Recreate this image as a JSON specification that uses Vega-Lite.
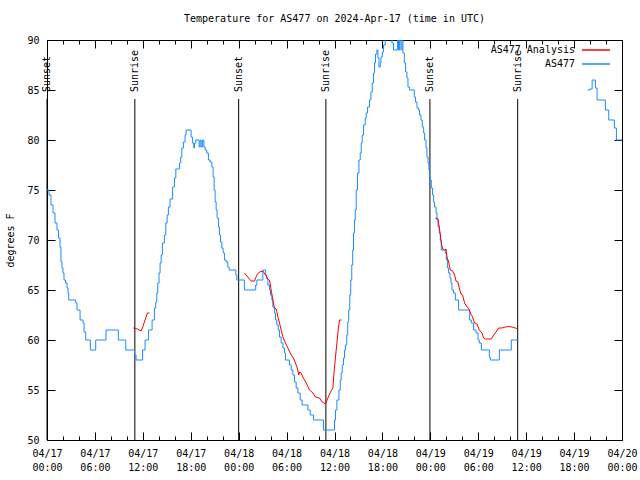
{
  "$schema": "https://vega.github.io/schema/vega-lite/v6.json",
  "width": 575,
  "height": 400,
  "autosize": "none",
  "padding": {"left": 47, "top": 40, "right": 18, "bottom": 40},
  "background": "white",
  "title": {"text": "Temperature for AS477 on 2024-Apr-17 (time in UTC)", "font": "DejaVu Sans Mono", "fontSize": 10, "fontWeight": "normal", "color": "black", "offset": 11, "anchor": "middle"},
  "config": {
    "font": "DejaVu Sans Mono",
    "view": {"stroke": "black", "strokeWidth": 1},
    "axis": {"domain": false, "grid": false, "tickColor": "black", "tickWidth": 1, "labelColor": "black", "labelFont": "DejaVu Sans Mono", "labelFontSize": 10, "titleFont": "DejaVu Sans Mono", "titleFontSize": 10, "titleFontWeight": "normal", "titleColor": "black"}
  },
  "datasets": {
    "temps": [
      {"series":"AS477","seg":1,"hour":0.0,"temp":75},
      {"series":"AS477","seg":1,"hour":0.25,"temp":74.5},
      {"series":"AS477","seg":1,"hour":0.5,"temp":73.5},
      {"series":"AS477","seg":1,"hour":0.75,"temp":72.7},
      {"series":"AS477","seg":1,"hour":1.0,"temp":71.7},
      {"series":"AS477","seg":1,"hour":1.25,"temp":71},
      {"series":"AS477","seg":1,"hour":1.44,"temp":70.2},
      {"series":"AS477","seg":1,"hour":1.63,"temp":69.3},
      {"series":"AS477","seg":1,"hour":1.75,"temp":67.8},
      {"series":"AS477","seg":1,"hour":1.88,"temp":67.2},
      {"series":"AS477","seg":1,"hour":2.0,"temp":66.7},
      {"series":"AS477","seg":1,"hour":2.13,"temp":66},
      {"series":"AS477","seg":1,"hour":2.32,"temp":65.7},
      {"series":"AS477","seg":1,"hour":2.51,"temp":65.2},
      {"series":"AS477","seg":1,"hour":2.63,"temp":64.7},
      {"series":"AS477","seg":1,"hour":2.72,"temp":64},
      {"series":"AS477","seg":1,"hour":3.6,"temp":63.7},
      {"series":"AS477","seg":1,"hour":3.76,"temp":63},
      {"series":"AS477","seg":1,"hour":4.14,"temp":62},
      {"series":"AS477","seg":1,"hour":4.51,"temp":61.7},
      {"series":"AS477","seg":1,"hour":4.64,"temp":60.8},
      {"series":"AS477","seg":1,"hour":4.85,"temp":60},
      {"series":"AS477","seg":1,"hour":5.43,"temp":59},
      {"series":"AS477","seg":1,"hour":6.1,"temp":60},
      {"series":"AS477","seg":1,"hour":7.39,"temp":61},
      {"series":"AS477","seg":1,"hour":8.93,"temp":60},
      {"series":"AS477","seg":1,"hour":9.86,"temp":59},
      {"series":"AS477","seg":1,"hour":10.96,"temp":58.5},
      {"series":"AS477","seg":1,"hour":11.15,"temp":58},
      {"series":"AS477","seg":1,"hour":11.97,"temp":59},
      {"series":"AS477","seg":1,"hour":12.28,"temp":60},
      {"series":"AS477","seg":1,"hour":12.72,"temp":61},
      {"series":"AS477","seg":1,"hour":13.16,"temp":62},
      {"series":"AS477","seg":1,"hour":13.45,"temp":63.2},
      {"series":"AS477","seg":1,"hour":13.62,"temp":63.8},
      {"series":"AS477","seg":1,"hour":13.75,"temp":64.7},
      {"series":"AS477","seg":1,"hour":13.87,"temp":65.7},
      {"series":"AS477","seg":1,"hour":14.03,"temp":66.7},
      {"series":"AS477","seg":1,"hour":14.16,"temp":67.7},
      {"series":"AS477","seg":1,"hour":14.29,"temp":68.5},
      {"series":"AS477","seg":1,"hour":14.45,"temp":69.7},
      {"series":"AS477","seg":1,"hour":14.7,"temp":70.5},
      {"series":"AS477","seg":1,"hour":14.87,"temp":71.7},
      {"series":"AS477","seg":1,"hour":15.04,"temp":72.5},
      {"series":"AS477","seg":1,"hour":15.2,"temp":73.3},
      {"series":"AS477","seg":1,"hour":15.41,"temp":74.1},
      {"series":"AS477","seg":1,"hour":15.73,"temp":75.3},
      {"series":"AS477","seg":1,"hour":15.95,"temp":76.2},
      {"series":"AS477","seg":1,"hour":16.13,"temp":77.1},
      {"series":"AS477","seg":1,"hour":16.58,"temp":77.7},
      {"series":"AS477","seg":1,"hour":16.75,"temp":78.3},
      {"series":"AS477","seg":1,"hour":16.88,"temp":79.2},
      {"series":"AS477","seg":1,"hour":17.08,"temp":79.8},
      {"series":"AS477","seg":1,"hour":17.29,"temp":80.5},
      {"series":"AS477","seg":1,"hour":17.42,"temp":81},
      {"series":"AS477","seg":1,"hour":18.04,"temp":80.3},
      {"series":"AS477","seg":1,"hour":18.21,"temp":79.7},
      {"series":"AS477","seg":1,"hour":18.38,"temp":79.2},
      {"series":"AS477","seg":1,"hour":18.46,"temp":79.7},
      {"series":"AS477","seg":1,"hour":18.63,"temp":80},
      {"series":"AS477","seg":1,"hour":19.05,"temp":79.3},
      {"series":"AS477","seg":1,"hour":19.17,"temp":80},
      {"series":"AS477","seg":1,"hour":19.3,"temp":79.3},
      {"series":"AS477","seg":1,"hour":19.46,"temp":80},
      {"series":"AS477","seg":1,"hour":19.64,"temp":79.3},
      {"series":"AS477","seg":1,"hour":19.8,"temp":79},
      {"series":"AS477","seg":1,"hour":20.01,"temp":78.7},
      {"series":"AS477","seg":1,"hour":20.21,"temp":78},
      {"series":"AS477","seg":1,"hour":20.43,"temp":77.8},
      {"series":"AS477","seg":1,"hour":20.64,"temp":77.3},
      {"series":"AS477","seg":1,"hour":20.8,"temp":76.3},
      {"series":"AS477","seg":1,"hour":20.93,"temp":75},
      {"series":"AS477","seg":1,"hour":21.05,"temp":73.8},
      {"series":"AS477","seg":1,"hour":21.18,"temp":73},
      {"series":"AS477","seg":1,"hour":21.3,"temp":72.2},
      {"series":"AS477","seg":1,"hour":21.47,"temp":71.3},
      {"series":"AS477","seg":1,"hour":21.59,"temp":70.5},
      {"series":"AS477","seg":1,"hour":21.72,"temp":69.8},
      {"series":"AS477","seg":1,"hour":21.89,"temp":69.2},
      {"series":"AS477","seg":1,"hour":22.05,"temp":68.7},
      {"series":"AS477","seg":1,"hour":22.22,"temp":68},
      {"series":"AS477","seg":1,"hour":22.43,"temp":67.8},
      {"series":"AS477","seg":1,"hour":22.64,"temp":67.3},
      {"series":"AS477","seg":1,"hour":22.81,"temp":67},
      {"series":"AS477","seg":1,"hour":23.65,"temp":66.5},
      {"series":"AS477","seg":1,"hour":23.77,"temp":66},
      {"series":"AS477","seg":1,"hour":24.72,"temp":65},
      {"series":"AS477","seg":1,"hour":26.13,"temp":65.5},
      {"series":"AS477","seg":1,"hour":26.28,"temp":66},
      {"series":"AS477","seg":1,"hour":27.03,"temp":67},
      {"series":"AS477","seg":1,"hour":27.38,"temp":66.5},
      {"series":"AS477","seg":1,"hour":27.53,"temp":66.1},
      {"series":"AS477","seg":1,"hour":27.66,"temp":65.5},
      {"series":"AS477","seg":1,"hour":27.86,"temp":65},
      {"series":"AS477","seg":1,"hour":27.98,"temp":64.5},
      {"series":"AS477","seg":1,"hour":28.16,"temp":64},
      {"series":"AS477","seg":1,"hour":28.28,"temp":63.3},
      {"series":"AS477","seg":1,"hour":28.48,"temp":62.7},
      {"series":"AS477","seg":1,"hour":28.61,"temp":62},
      {"series":"AS477","seg":1,"hour":28.78,"temp":61.5},
      {"series":"AS477","seg":1,"hour":28.95,"temp":61},
      {"series":"AS477","seg":1,"hour":29.11,"temp":60.3},
      {"series":"AS477","seg":1,"hour":29.32,"temp":59.7},
      {"series":"AS477","seg":1,"hour":29.54,"temp":59.2},
      {"series":"AS477","seg":1,"hour":29.74,"temp":58.7},
      {"series":"AS477","seg":1,"hour":29.86,"temp":58},
      {"series":"AS477","seg":1,"hour":30.36,"temp":57.5},
      {"series":"AS477","seg":1,"hour":30.58,"temp":57},
      {"series":"AS477","seg":1,"hour":30.79,"temp":56.5},
      {"series":"AS477","seg":1,"hour":30.99,"temp":55.8},
      {"series":"AS477","seg":1,"hour":31.2,"temp":55.2},
      {"series":"AS477","seg":1,"hour":31.42,"temp":54.7},
      {"series":"AS477","seg":1,"hour":31.7,"temp":54},
      {"series":"AS477","seg":1,"hour":31.95,"temp":53.5},
      {"series":"AS477","seg":1,"hour":32.67,"temp":53},
      {"series":"AS477","seg":1,"hour":32.96,"temp":52.5},
      {"series":"AS477","seg":1,"hour":33.37,"temp":52},
      {"series":"AS477","seg":1,"hour":34.62,"temp":51},
      {"series":"AS477","seg":1,"hour":36.0,"temp":52},
      {"series":"AS477","seg":1,"hour":36.13,"temp":53},
      {"series":"AS477","seg":1,"hour":36.3,"temp":54},
      {"series":"AS477","seg":1,"hour":36.55,"temp":55},
      {"series":"AS477","seg":1,"hour":36.72,"temp":56},
      {"series":"AS477","seg":1,"hour":36.84,"temp":56.7},
      {"series":"AS477","seg":1,"hour":36.97,"temp":57.5},
      {"series":"AS477","seg":1,"hour":37.13,"temp":58.2},
      {"series":"AS477","seg":1,"hour":37.25,"temp":59},
      {"series":"AS477","seg":1,"hour":37.38,"temp":59.5},
      {"series":"AS477","seg":1,"hour":37.53,"temp":60.5},
      {"series":"AS477","seg":1,"hour":37.66,"temp":61.8},
      {"series":"AS477","seg":1,"hour":37.78,"temp":63},
      {"series":"AS477","seg":1,"hour":37.91,"temp":64.5},
      {"series":"AS477","seg":1,"hour":38.03,"temp":66},
      {"series":"AS477","seg":1,"hour":38.16,"temp":67.5},
      {"series":"AS477","seg":1,"hour":38.28,"temp":69},
      {"series":"AS477","seg":1,"hour":38.38,"temp":70.7},
      {"series":"AS477","seg":1,"hour":38.5,"temp":72},
      {"series":"AS477","seg":1,"hour":38.6,"temp":73},
      {"series":"AS477","seg":1,"hour":38.72,"temp":75},
      {"series":"AS477","seg":1,"hour":38.88,"temp":76.7},
      {"series":"AS477","seg":1,"hour":39.06,"temp":78},
      {"series":"AS477","seg":1,"hour":39.22,"temp":78.7},
      {"series":"AS477","seg":1,"hour":39.35,"temp":79.7},
      {"series":"AS477","seg":1,"hour":39.47,"temp":80.5},
      {"series":"AS477","seg":1,"hour":39.64,"temp":81.5},
      {"series":"AS477","seg":1,"hour":39.85,"temp":82.2},
      {"series":"AS477","seg":1,"hour":39.97,"temp":82.7},
      {"series":"AS477","seg":1,"hour":40.14,"temp":83.3},
      {"series":"AS477","seg":1,"hour":40.39,"temp":84},
      {"series":"AS477","seg":1,"hour":40.56,"temp":84.8},
      {"series":"AS477","seg":1,"hour":40.73,"temp":85.7},
      {"series":"AS477","seg":1,"hour":40.89,"temp":86.7},
      {"series":"AS477","seg":1,"hour":41.01,"temp":87.7},
      {"series":"AS477","seg":1,"hour":41.14,"temp":88.6},
      {"series":"AS477","seg":1,"hour":41.31,"temp":89},
      {"series":"AS477","seg":1,"hour":41.44,"temp":88.2},
      {"series":"AS477","seg":1,"hour":41.57,"temp":87.3},
      {"series":"AS477","seg":1,"hour":41.73,"temp":87.7},
      {"series":"AS477","seg":1,"hour":41.82,"temp":88.3},
      {"series":"AS477","seg":1,"hour":41.98,"temp":88.8},
      {"series":"AS477","seg":1,"hour":42.14,"temp":89.5},
      {"series":"AS477","seg":1,"hour":42.35,"temp":90.5},
      {"series":"AS477","seg":1,"hour":42.61,"temp":91},
      {"series":"AS477","seg":1,"hour":43.19,"temp":89.7},
      {"series":"AS477","seg":1,"hour":43.39,"temp":89},
      {"series":"AS477","seg":1,"hour":43.9,"temp":90},
      {"series":"AS477","seg":1,"hour":44.02,"temp":89},
      {"series":"AS477","seg":1,"hour":44.15,"temp":90},
      {"series":"AS477","seg":1,"hour":44.32,"temp":89},
      {"series":"AS477","seg":1,"hour":44.45,"temp":90},
      {"series":"AS477","seg":1,"hour":44.57,"temp":88.7},
      {"series":"AS477","seg":1,"hour":44.74,"temp":87.7},
      {"series":"AS477","seg":1,"hour":44.9,"temp":86.8},
      {"series":"AS477","seg":1,"hour":45.07,"temp":86.2},
      {"series":"AS477","seg":1,"hour":45.2,"temp":85.3},
      {"series":"AS477","seg":1,"hour":45.4,"temp":85},
      {"series":"AS477","seg":1,"hour":45.99,"temp":84.3},
      {"series":"AS477","seg":1,"hour":46.15,"temp":83.8},
      {"series":"AS477","seg":1,"hour":46.33,"temp":83.2},
      {"series":"AS477","seg":1,"hour":46.53,"temp":83},
      {"series":"AS477","seg":1,"hour":46.65,"temp":82.5},
      {"series":"AS477","seg":1,"hour":46.83,"temp":82},
      {"series":"AS477","seg":1,"hour":46.99,"temp":81.3},
      {"series":"AS477","seg":1,"hour":47.16,"temp":80.7},
      {"series":"AS477","seg":1,"hour":47.28,"temp":80},
      {"series":"AS477","seg":1,"hour":47.46,"temp":79.2},
      {"series":"AS477","seg":1,"hour":47.58,"temp":78.3},
      {"series":"AS477","seg":1,"hour":47.71,"temp":77.7},
      {"series":"AS477","seg":1,"hour":47.83,"temp":77},
      {"series":"AS477","seg":1,"hour":47.91,"temp":76.3},
      {"series":"AS477","seg":1,"hour":47.99,"temp":76},
      {"series":"AS477","seg":1,"hour":48.12,"temp":75.2},
      {"series":"AS477","seg":1,"hour":48.28,"temp":74.5},
      {"series":"AS477","seg":1,"hour":48.41,"temp":73.8},
      {"series":"AS477","seg":1,"hour":48.53,"temp":73.3},
      {"series":"AS477","seg":1,"hour":48.71,"temp":72.7},
      {"series":"AS477","seg":1,"hour":48.83,"temp":72},
      {"series":"AS477","seg":1,"hour":48.96,"temp":71.3},
      {"series":"AS477","seg":1,"hour":49.12,"temp":70.7},
      {"series":"AS477","seg":1,"hour":49.25,"temp":70},
      {"series":"AS477","seg":1,"hour":49.37,"temp":69},
      {"series":"AS477","seg":1,"hour":49.87,"temp":68.7},
      {"series":"AS477","seg":1,"hour":50.0,"temp":68},
      {"series":"AS477","seg":1,"hour":50.16,"temp":67.2},
      {"series":"AS477","seg":1,"hour":50.29,"temp":66.7},
      {"series":"AS477","seg":1,"hour":50.46,"temp":66.2},
      {"series":"AS477","seg":1,"hour":50.59,"temp":65.7},
      {"series":"AS477","seg":1,"hour":50.71,"temp":65},
      {"series":"AS477","seg":1,"hour":50.91,"temp":64.7},
      {"series":"AS477","seg":1,"hour":51.13,"temp":64},
      {"series":"AS477","seg":1,"hour":51.54,"temp":63},
      {"series":"AS477","seg":1,"hour":52.92,"temp":62},
      {"series":"AS477","seg":1,"hour":53.13,"temp":61.7},
      {"series":"AS477","seg":1,"hour":53.42,"temp":61},
      {"series":"AS477","seg":1,"hour":53.72,"temp":60.7},
      {"series":"AS477","seg":1,"hour":53.97,"temp":60},
      {"series":"AS477","seg":1,"hour":54.13,"temp":59.7},
      {"series":"AS477","seg":1,"hour":54.39,"temp":59},
      {"series":"AS477","seg":1,"hour":55.39,"temp":58.3},
      {"series":"AS477","seg":1,"hour":55.51,"temp":58},
      {"series":"AS477","seg":1,"hour":56.64,"temp":59},
      {"series":"AS477","seg":1,"hour":58.14,"temp":60},
      {"series":"AS477","seg":1,"hour":58.96,"temp":60},
      {"series":"AS477","seg":2,"hour":67.7,"temp":85},
      {"series":"AS477","seg":2,"hour":67.95,"temp":85.1},
      {"series":"AS477","seg":2,"hour":68.26,"temp":86},
      {"series":"AS477","seg":2,"hour":68.67,"temp":85.2},
      {"series":"AS477","seg":2,"hour":68.88,"temp":84},
      {"series":"AS477","seg":2,"hour":69.92,"temp":83},
      {"series":"AS477","seg":2,"hour":70.34,"temp":82},
      {"series":"AS477","seg":2,"hour":71.05,"temp":81.2},
      {"series":"AS477","seg":2,"hour":71.3,"temp":80},
      {"series":"AS477","seg":2,"hour":72.0,"temp":80},
      {"series":"AS477 Analysis","seg":3,"hour":10.81,"temp":61.2},
      {"series":"AS477 Analysis","seg":3,"hour":11.32,"temp":61.1},
      {"series":"AS477 Analysis","seg":3,"hour":11.78,"temp":60.9},
      {"series":"AS477 Analysis","seg":3,"hour":11.99,"temp":61.3},
      {"series":"AS477 Analysis","seg":3,"hour":12.19,"temp":61.8},
      {"series":"AS477 Analysis","seg":3,"hour":12.41,"temp":62.3},
      {"series":"AS477 Analysis","seg":3,"hour":12.57,"temp":62.7},
      {"series":"AS477 Analysis","seg":3,"hour":12.82,"temp":62.7},
      {"series":"AS477 Analysis","seg":4,"hour":24.72,"temp":66.7},
      {"series":"AS477 Analysis","seg":4,"hour":25.15,"temp":66.3},
      {"series":"AS477 Analysis","seg":4,"hour":25.56,"temp":65.9},
      {"series":"AS477 Analysis","seg":4,"hour":25.98,"temp":65.9},
      {"series":"AS477 Analysis","seg":4,"hour":26.28,"temp":66.5},
      {"series":"AS477 Analysis","seg":4,"hour":26.6,"temp":66.8},
      {"series":"AS477 Analysis","seg":4,"hour":27.03,"temp":66.9},
      {"series":"AS477 Analysis","seg":4,"hour":27.36,"temp":66.5},
      {"series":"AS477 Analysis","seg":4,"hour":27.66,"temp":66.1},
      {"series":"AS477 Analysis","seg":4,"hour":27.86,"temp":66.0},
      {"series":"AS477 Analysis","seg":4,"hour":28.07,"temp":65},
      {"series":"AS477 Analysis","seg":4,"hour":28.28,"temp":64},
      {"series":"AS477 Analysis","seg":4,"hour":28.48,"temp":63.2},
      {"series":"AS477 Analysis","seg":4,"hour":28.7,"temp":63.1},
      {"series":"AS477 Analysis","seg":4,"hour":28.91,"temp":62.3},
      {"series":"AS477 Analysis","seg":4,"hour":29.11,"temp":61.7},
      {"series":"AS477 Analysis","seg":4,"hour":29.32,"temp":61},
      {"series":"AS477 Analysis","seg":4,"hour":29.54,"temp":60.3},
      {"series":"AS477 Analysis","seg":4,"hour":29.86,"temp":59.7},
      {"series":"AS477 Analysis","seg":4,"hour":30.16,"temp":59.2},
      {"series":"AS477 Analysis","seg":4,"hour":30.58,"temp":58.5},
      {"series":"AS477 Analysis","seg":4,"hour":30.86,"temp":58.2},
      {"series":"AS477 Analysis","seg":4,"hour":31.11,"temp":57.7},
      {"series":"AS477 Analysis","seg":4,"hour":31.33,"temp":57.2},
      {"series":"AS477 Analysis","seg":4,"hour":31.54,"temp":56.5},
      {"series":"AS477 Analysis","seg":4,"hour":31.62,"temp":56.8},
      {"series":"AS477 Analysis","seg":4,"hour":31.83,"temp":56.7},
      {"series":"AS477 Analysis","seg":4,"hour":32.04,"temp":56.3},
      {"series":"AS477 Analysis","seg":4,"hour":32.46,"temp":55.7},
      {"series":"AS477 Analysis","seg":4,"hour":32.87,"temp":55},
      {"series":"AS477 Analysis","seg":4,"hour":33.3,"temp":54.7},
      {"series":"AS477 Analysis","seg":4,"hour":33.62,"temp":54.3},
      {"series":"AS477 Analysis","seg":4,"hour":34.12,"temp":54.2},
      {"series":"AS477 Analysis","seg":4,"hour":34.46,"temp":53.8},
      {"series":"AS477 Analysis","seg":4,"hour":34.87,"temp":53.6},
      {"series":"AS477 Analysis","seg":4,"hour":35.17,"temp":54.2},
      {"series":"AS477 Analysis","seg":4,"hour":35.5,"temp":54.8},
      {"series":"AS477 Analysis","seg":4,"hour":35.8,"temp":55.2},
      {"series":"AS477 Analysis","seg":4,"hour":35.93,"temp":56.7},
      {"series":"AS477 Analysis","seg":4,"hour":36.09,"temp":58},
      {"series":"AS477 Analysis","seg":4,"hour":36.21,"temp":59},
      {"series":"AS477 Analysis","seg":4,"hour":36.34,"temp":60},
      {"series":"AS477 Analysis","seg":4,"hour":36.5,"temp":61.3},
      {"series":"AS477 Analysis","seg":4,"hour":36.63,"temp":62},
      {"series":"AS477 Analysis","seg":4,"hour":36.88,"temp":62},
      {"series":"AS477 Analysis","seg":5,"hour":48.62,"temp":72.2},
      {"series":"AS477 Analysis","seg":5,"hour":48.96,"temp":72.1},
      {"series":"AS477 Analysis","seg":5,"hour":49.12,"temp":71.3},
      {"series":"AS477 Analysis","seg":5,"hour":49.25,"temp":70.5},
      {"series":"AS477 Analysis","seg":5,"hour":49.37,"temp":69.7},
      {"series":"AS477 Analysis","seg":5,"hour":49.54,"temp":69.1},
      {"series":"AS477 Analysis","seg":5,"hour":49.79,"temp":69.0},
      {"series":"AS477 Analysis","seg":5,"hour":49.96,"temp":69.1},
      {"series":"AS477 Analysis","seg":5,"hour":50.09,"temp":68.3},
      {"series":"AS477 Analysis","seg":5,"hour":50.29,"temp":67.8},
      {"series":"AS477 Analysis","seg":5,"hour":50.5,"temp":67},
      {"series":"AS477 Analysis","seg":5,"hour":50.79,"temp":66.9},
      {"series":"AS477 Analysis","seg":5,"hour":51.04,"temp":66.5},
      {"series":"AS477 Analysis","seg":5,"hour":51.21,"temp":65.9},
      {"series":"AS477 Analysis","seg":5,"hour":51.46,"temp":65.8},
      {"series":"AS477 Analysis","seg":5,"hour":51.63,"temp":65.2},
      {"series":"AS477 Analysis","seg":5,"hour":51.84,"temp":64.6},
      {"series":"AS477 Analysis","seg":5,"hour":52.04,"temp":64.5},
      {"series":"AS477 Analysis","seg":5,"hour":52.29,"temp":63.7},
      {"series":"AS477 Analysis","seg":5,"hour":52.59,"temp":63.3},
      {"series":"AS477 Analysis","seg":5,"hour":52.79,"temp":63.2},
      {"series":"AS477 Analysis","seg":5,"hour":53.01,"temp":62.7},
      {"series":"AS477 Analysis","seg":5,"hour":53.29,"temp":62.3},
      {"series":"AS477 Analysis","seg":5,"hour":53.54,"temp":61.7},
      {"series":"AS477 Analysis","seg":5,"hour":53.85,"temp":61.6},
      {"series":"AS477 Analysis","seg":5,"hour":54.13,"temp":61},
      {"series":"AS477 Analysis","seg":5,"hour":54.47,"temp":60.7},
      {"series":"AS477 Analysis","seg":5,"hour":54.67,"temp":60.2},
      {"series":"AS477 Analysis","seg":5,"hour":54.89,"temp":60.1},
      {"series":"AS477 Analysis","seg":5,"hour":55.64,"temp":60.1},
      {"series":"AS477 Analysis","seg":5,"hour":55.93,"temp":60.5},
      {"series":"AS477 Analysis","seg":5,"hour":56.23,"temp":60.8},
      {"series":"AS477 Analysis","seg":5,"hour":56.55,"temp":61.2},
      {"series":"AS477 Analysis","seg":5,"hour":56.98,"temp":61.2},
      {"series":"AS477 Analysis","seg":5,"hour":57.39,"temp":61.3},
      {"series":"AS477 Analysis","seg":5,"hour":57.81,"temp":61.35},
      {"series":"AS477 Analysis","seg":5,"hour":58.23,"temp":61.3},
      {"series":"AS477 Analysis","seg":5,"hour":58.65,"temp":61.2},
      {"series":"AS477 Analysis","seg":5,"hour":58.98,"temp":61.1}
    ],
    "sun": [
      {"hour": 0.0, "event": "Sunset"},
      {"hour": 11.0, "event": "Sunrise"},
      {"hour": 24.0, "event": "Sunset"},
      {"hour": 34.92, "event": "Sunrise"},
      {"hour": 47.95, "event": "Sunset"},
      {"hour": 58.94, "event": "Sunrise"}
    ]
  },
  "resolve": {"axis": {"x": "independent", "y": "independent"}},
  "layer": [
    {
      "data": {"name": "sun"},
      "mark": {"type": "rule", "color": "black", "strokeWidth": 1},
      "encoding": {
        "x": {"field": "hour", "type": "quantitative", "scale": {"domain": [0, 72], "nice": false, "zero": false},
              "axis": {"orient": "bottom", "values": [0,2,4,6,8,10,12,14,16,18,20,22,24,26,28,30,32,34,36,38,40,42,44,46,48,50,52,54,56,58,60,62,64,66,68,70,72], "tickSize": -4, "labels": false, "title": null}},
        "y": {"datum": 84.1, "type": "quantitative", "scale": {"domain": [50, 90], "nice": false, "zero": false}, "axis": null},
        "y2": {"datum": 50}
      }
    },
    {
      "data": {"name": "sun"},
      "mark": {"type": "text", "angle": 270, "align": "left", "baseline": "middle", "font": "DejaVu Sans Mono", "fontSize": 10, "color": "black"},
      "encoding": {
        "x": {"field": "hour", "type": "quantitative",
              "axis": {"orient": "top", "values": [0,2,4,6,8,10,12,14,16,18,20,22,24,26,28,30,32,34,36,38,40,42,44,46,48,50,52,54,56,58,60,62,64,66,68,70,72], "tickSize": -4, "labels": false, "title": null}},
        "y": {"datum": 84.8, "type": "quantitative", "axis": null},
        "text": {"field": "event"}
      }
    },
    {
      "data": {"name": "temps"},
      "transform": [{"filter": "datum.series === 'AS477'"}],
      "mark": {"type": "line", "interpolate": "step-after", "strokeWidth": 1, "clip": true},
      "encoding": {
        "x": {"field": "hour", "type": "quantitative",
              "axis": {"orient": "bottom", "values": [0,6,12,18,24,30,36,42,48,54,60,66,72], "tickSize": -8, "labelPadding": 16, "labelBaseline": "top", "labelLineHeight": 14, "labelFlush": false,
                       "labelExpr": "['04/' + (17 + floor(datum.value / 24)), (datum.value % 24 < 10 ? '0' : '') + (datum.value % 24) + ':00']", "title": null}},
        "y": {"field": "temp", "type": "quantitative",
              "axis": {"orient": "left", "values": [50,55,60,65,70,75,80,85,90], "tickSize": -8, "labelPadding": 16, "title": "degrees F", "titlePadding": 11}},
        "color": {"field": "series", "type": "nominal",
                  "scale": {"domain": ["AS477 Analysis", "AS477"], "range": ["#ff0000", "#1a8cff"]},
                  "legend": {"orient": "none", "legendX": 543, "legendY": 4, "title": null, "symbolType": "M-2.8,0H2.8", "symbolSize": 100, "symbolStrokeWidth": 1.5, "labelAlign": "right", "labelOffset": -27, "labelFontSize": 10, "labelFont": "DejaVu Sans Mono", "labelColor": "black", "padding": 0, "rowPadding": 3, "labelLimit": 0,
                             "encode": {"symbols": {"update": {"stroke": {"scale": "color", "field": "value"}, "strokeOpacity": {"value": 1}, "opacity": {"value": 1}, "fill": {"value": "transparent"}, "strokeWidth": {"value": 1.5}}}}}},
        "detail": {"field": "seg", "type": "nominal"}
      }
    },
    {
      "data": {"name": "temps"},
      "transform": [{"filter": "datum.series === 'AS477 Analysis'"}],
      "mark": {"type": "line", "strokeWidth": 1, "clip": true},
      "encoding": {
        "x": {"field": "hour", "type": "quantitative",
              "axis": {"orient": "top", "values": [0,6,12,18,24,30,36,42,48,54,60,66,72], "tickSize": -8, "labels": false, "title": null}},
        "y": {"field": "temp", "type": "quantitative",
              "axis": {"orient": "right", "values": [50,55,60,65,70,75,80,85,90], "tickSize": -8, "labels": false, "title": null}},
        "color": {"field": "series", "type": "nominal"},
        "detail": {"field": "seg", "type": "nominal"}
      }
    }
  ]
}
